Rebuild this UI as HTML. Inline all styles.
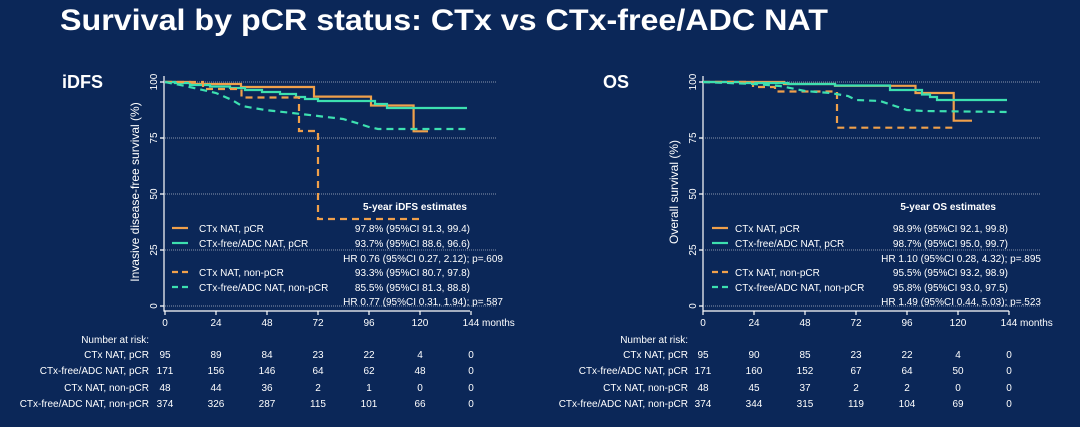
<!DOCTYPE html>
<html><head><meta charset="utf-8"><style>
html,body{margin:0;padding:0;background:#0b2758;}
svg{display:block;font-family:"Liberation Sans",Arial,sans-serif;}
</style></head><body>
<svg width="1080" height="427" viewBox="0 0 1080 427" xmlns="http://www.w3.org/2000/svg">
<rect width="1080" height="427" fill="#0b2758"/>
<text x="60" y="30" fill="#fff" font-size="30" font-weight="bold" textLength="768" lengthAdjust="spacingAndGlyphs">Survival by pCR status: CTx vs CTx-free/ADC NAT</text>
<text x="62" y="88" fill="#fff" font-size="18" font-weight="bold">iDFS</text>
<text x="603" y="88" fill="#fff" font-size="18" font-weight="bold">OS</text>

<g stroke="#8a95ab" stroke-width="1" stroke-dasharray="1,1">
<line x1="165" y1="82" x2="497" y2="82"/><line x1="165" y1="138" x2="497" y2="138"/><line x1="165" y1="194" x2="497" y2="194"/><line x1="165" y1="250" x2="497" y2="250"/><line x1="165" y1="306" x2="497" y2="306"/>
<line x1="705" y1="82" x2="1040" y2="82"/><line x1="705" y1="138" x2="1040" y2="138"/><line x1="705" y1="194" x2="1040" y2="194"/><line x1="705" y1="250" x2="1040" y2="250"/><line x1="705" y1="306" x2="1040" y2="306"/>
</g>
<g stroke="#fff" stroke-width="1.2" fill="none">
<path d="M164,76 V311 H470"/>
<path d="M160,82 H164 M160,138 H164 M160,194 H164 M160,250 H164 M160,306 H164"/>
<path d="M165,311 V315 M216,311 V315 M267,311 V315 M318,311 V315 M369,311 V315 M420,311 V315 M471,311 V315"/>
<path d="M703,76 V311 H1009"/>
<path d="M699,82 H703 M699,138 H703 M699,194 H703 M699,250 H703 M699,306 H703"/>
<path d="M703,311 V315 M754,311 V315 M805,311 V315 M856,311 V315 M907,311 V315 M958,311 V315 M1009,311 V315"/>
</g>
<g fill="#fff" font-size="10" text-anchor="middle">
<text transform="translate(157,82) rotate(-90)">100</text>
<text transform="translate(157,138) rotate(-90)">75</text>
<text transform="translate(157,194) rotate(-90)">50</text>
<text transform="translate(157,250) rotate(-90)">25</text>
<text transform="translate(157,306) rotate(-90)">0</text>
<text transform="translate(139,192) rotate(-90)" font-size="12">Invasive disease-free survival (%)</text>
<text transform="translate(696,82) rotate(-90)">100</text>
<text transform="translate(696,138) rotate(-90)">75</text>
<text transform="translate(696,194) rotate(-90)">50</text>
<text transform="translate(696,250) rotate(-90)">25</text>
<text transform="translate(696,306) rotate(-90)">0</text>
<text transform="translate(678,192) rotate(-90)" font-size="12">Overall survival (%)</text>
<text x="165" y="326">0</text><text x="216" y="326">24</text><text x="267" y="326">48</text><text x="318" y="326">72</text><text x="369" y="326">96</text><text x="420" y="326">120</text><text x="471" y="326">144</text>
<text x="703" y="326">0</text><text x="754" y="326">24</text><text x="805" y="326">48</text><text x="856" y="326">72</text><text x="907" y="326">96</text><text x="958" y="326">120</text><text x="1009" y="326">144</text>
</g>
<text x="482" y="326" fill="#fff" font-size="10">months</text>
<text x="1020" y="326" fill="#fff" font-size="10">months</text>

<g fill="none" stroke-width="2.2">
<path stroke="#f0a04b" d="M165,82 H190 V84 H241 V87 H314 V96.6 H371 V105.5 H413.6 V131.3 H428"/>
<path stroke="#3de0b0" d="M165,82 H175 V83 H190 V85 H210 V86.5 H230 V88 H245 V90 H262 V92 H280 V94 H296 V97 H305 V99 H318 V101 H375 V104 H387 V108 H467"/>
<path stroke="#f0a04b" stroke-dasharray="7,5" d="M165,82 H203 V89 H241.5 V97.5 H299 V131 H318 V219 H424"/>
<path stroke="#3de0b0" stroke-dasharray="7,5" d="M165,82 L185,86 L216,93 L232,100 L242,106 L265,110 L292,113 L318,116 L343,119 L360,124 L369,127 L378,129 L467,129"/>
<path stroke="#f0a04b" d="M703,82 H784 V84 H835 V85.8 H915.5 V93 H953.7 V120.7 H972"/>
<path stroke="#3de0b0" d="M703,82 H745 V83 H788 V84 H835 V85.5 H890 V90 H922 V94.5 H930 V97 H937 V100 H1007"/>
<path stroke="#f0a04b" stroke-dasharray="7,5" d="M703,82 H753 V87 H775 V91.5 H837 V127.7 H953"/>
<path stroke="#3de0b0" stroke-dasharray="7,5" d="M703,82 L754,84 L780,86 L805,91 L830,93 L848,96 L856,100 L880,101 L895,106 L907,110 L924,111 L1007,112"/>
</g>

<g font-size="10" fill="#fff">
<text x="467" y="210" text-anchor="end" font-weight="bold">5-year iDFS estimates</text>
<text x="199" y="232">CTx NAT, pCR</text>
<text x="199" y="247">CTx-free/ADC NAT, pCR</text>
<text x="199" y="276">CTx NAT, non-pCR</text>
<text x="199" y="291">CTx-free/ADC NAT, non-pCR</text>
<text x="470" y="232" text-anchor="end">97.8% (95%CI 91.3, 99.4)</text>
<text x="470" y="247" text-anchor="end">93.7% (95%CI 88.6, 96.6)</text>
<text x="503" y="262" text-anchor="end">HR 0.76 (95%CI 0.27, 2.12); p=.609</text>
<text x="470" y="276" text-anchor="end">93.3% (95%CI 80.7, 97.8)</text>
<text x="470" y="291" text-anchor="end">85.5% (95%CI 81.3, 88.8)</text>
<text x="503" y="305" text-anchor="end">HR 0.77 (95%CI 0.31, 1.94); p=.587</text>

<text x="996" y="210" text-anchor="end" font-weight="bold">5-year OS estimates</text>
<text x="735" y="232">CTx NAT, pCR</text>
<text x="735" y="247">CTx-free/ADC NAT, pCR</text>
<text x="735" y="276">CTx NAT, non-pCR</text>
<text x="735" y="291">CTx-free/ADC NAT, non-pCR</text>
<text x="1008" y="232" text-anchor="end">98.9% (95%CI 92.1, 99.8)</text>
<text x="1008" y="247" text-anchor="end">98.7% (95%CI 95.0, 99.7)</text>
<text x="1041" y="262" text-anchor="end">HR 1.10 (95%CI 0.28, 4.32); p=.895</text>
<text x="1008" y="276" text-anchor="end">95.5% (95%CI 93.2, 98.9)</text>
<text x="1008" y="291" text-anchor="end">95.8% (95%CI 93.0, 97.5)</text>
<text x="1041" y="305" text-anchor="end">HR 1.49 (95%CI 0.44, 5.03); p=.523</text>
</g>
<g stroke-width="2.2">
<line x1="172" y1="228" x2="188" y2="228" stroke="#f0a04b"/>
<line x1="172" y1="243" x2="188" y2="243" stroke="#3de0b0"/>
<line x1="172" y1="272" x2="188" y2="272" stroke="#f0a04b" stroke-dasharray="6,4"/>
<line x1="172" y1="287" x2="188" y2="287" stroke="#3de0b0" stroke-dasharray="6,4"/>
<line x1="712" y1="228" x2="728" y2="228" stroke="#f0a04b"/>
<line x1="712" y1="243" x2="728" y2="243" stroke="#3de0b0"/>
<line x1="712" y1="272" x2="728" y2="272" stroke="#f0a04b" stroke-dasharray="6,4"/>
<line x1="712" y1="287" x2="728" y2="287" stroke="#3de0b0" stroke-dasharray="6,4"/>
</g>

<g font-size="10" fill="#fff">
<g text-anchor="end">
<text x="149" y="343">Number at risk:</text>
<text x="149" y="358">CTx NAT, pCR</text>
<text x="149" y="374">CTx-free/ADC NAT, pCR</text>
<text x="149" y="391">CTx NAT, non-pCR</text>
<text x="149" y="407">CTx-free/ADC NAT, non-pCR</text>
<text x="688" y="343">Number at risk:</text>
<text x="688" y="358">CTx NAT, pCR</text>
<text x="688" y="374">CTx-free/ADC NAT, pCR</text>
<text x="688" y="391">CTx NAT, non-pCR</text>
<text x="688" y="407">CTx-free/ADC NAT, non-pCR</text>
</g>
<g text-anchor="middle">
<text x="165" y="358">95</text><text x="216" y="358">89</text><text x="267" y="358">84</text><text x="318" y="358">23</text><text x="369" y="358">22</text><text x="420" y="358">4</text><text x="471" y="358">0</text>
<text x="165" y="374">171</text><text x="216" y="374">156</text><text x="267" y="374">146</text><text x="318" y="374">64</text><text x="369" y="374">62</text><text x="420" y="374">48</text><text x="471" y="374">0</text>
<text x="165" y="391">48</text><text x="216" y="391">44</text><text x="267" y="391">36</text><text x="318" y="391">2</text><text x="369" y="391">1</text><text x="420" y="391">0</text><text x="471" y="391">0</text>
<text x="165" y="407">374</text><text x="216" y="407">326</text><text x="267" y="407">287</text><text x="318" y="407">115</text><text x="369" y="407">101</text><text x="420" y="407">66</text><text x="471" y="407">0</text>

<text x="703" y="358">95</text><text x="754" y="358">90</text><text x="805" y="358">85</text><text x="856" y="358">23</text><text x="907" y="358">22</text><text x="958" y="358">4</text><text x="1009" y="358">0</text>
<text x="703" y="374">171</text><text x="754" y="374">160</text><text x="805" y="374">152</text><text x="856" y="374">67</text><text x="907" y="374">64</text><text x="958" y="374">50</text><text x="1009" y="374">0</text>
<text x="703" y="391">48</text><text x="754" y="391">45</text><text x="805" y="391">37</text><text x="856" y="391">2</text><text x="907" y="391">2</text><text x="958" y="391">0</text><text x="1009" y="391">0</text>
<text x="703" y="407">374</text><text x="754" y="407">344</text><text x="805" y="407">315</text><text x="856" y="407">119</text><text x="907" y="407">104</text><text x="958" y="407">69</text><text x="1009" y="407">0</text>
</g>
</g>
</svg>
</body></html>
